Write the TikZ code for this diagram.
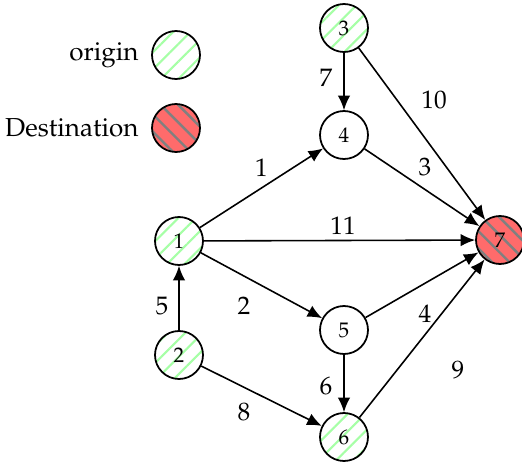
\documentclass[tikz,border=0pt]{standalone}
\usepackage[T1]{fontenc}
\usepackage{mathpazo}
\usetikzlibrary{arrows.meta,patterns.meta}

\begin{document}
\begin{tikzpicture}[
    vertex/.style={circle, draw, line width=1pt, minimum size=0.96cm, inner sep=0pt, font=\large},
    origin/.style={vertex, pattern={Lines[angle=45, distance=7pt, line width=1.2pt]}, pattern color=green!35},
    dest/.style={vertex, preaction={fill=red!58}, pattern={Lines[angle=-45, distance=7pt, line width=1.4pt]}, pattern color=gray},
    weight/.style={font=\Large, midway},
    legtext/.style={font=\fontsize{14.8}{18}\selectfont, label distance=3.5pt},
    arc/.style={-{Latex[length=2.9mm, width=2.5mm]}, line width=0.9pt}
]
            \useasboundingbox (0, 0) rectangle (10.44, 9.32);
            % legend
            \node[origin, label={[legtext]left:origin}] (legorigin) at (3.52, 8.22) {};
            \node[dest, label={[legtext]left:Destination}] (legdest) at (3.52, 6.76) {};
            % network
            \node[origin] (n1) at (3.58, 4.5) {1};
            \node[origin] (n2) at (3.58, 2.22) {2};
            \node[origin] (n3) at (6.88, 8.76) {3};
            \node[vertex] (n4) at (6.88, 6.62) {4};
            \node[vertex] (n5) at (6.88, 2.72) {5};
            \node[origin] (n6) at (6.88, 0.58) {6};
            \node[dest] (n7) at (10.0, 4.52) {7};
            \draw[arc] (n1) -- node[weight, yshift=0.4cm] {1} (n4);
            \draw[arc] (n1) -- node[weight, xshift=0.07cm, yshift=0.3cm] {11} (n7);
            \draw[arc] (n3) -- node[weight, xshift=0.24cm, yshift=0.68cm] {10} (n7);
            \draw[arc] (n4) -- node[weight, xshift=0.06cm, yshift=0.4cm] {3} (n7);
            \draw[arc] (n3) -- node[weight, xshift=-0.36cm, yshift=0.08cm] {7} (n4);
            \draw[arc] (n2) -- node[weight, xshift=-0.34cm, yshift=-0.16cm] {5} (n1);
            \draw[arc] (n1) -- node[weight, xshift=-0.35cm, yshift=-0.41cm] {2} (n5);
            \draw[arc] (n5) -- node[weight, xshift=0.06cm, yshift=-0.58cm] {4} (n7);
            \draw[arc] (n5) -- node[weight, xshift=-0.36cm, yshift=-0.05cm] {6} (n6);
            \draw[arc] (n2) -- node[weight, xshift=-0.35cm, yshift=-0.32cm] {8} (n6);
            \draw[arc] (n6) -- node[weight, xshift=0.72cm, yshift=-0.63cm] {9} (n7);
        \end{tikzpicture}
\end{document}
